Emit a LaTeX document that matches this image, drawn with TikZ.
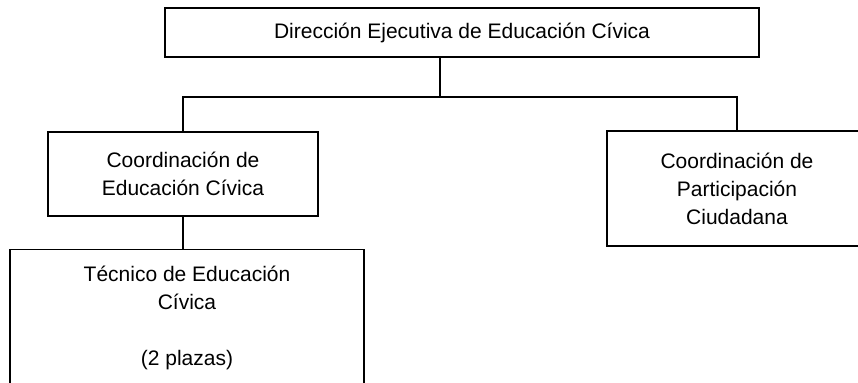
\documentclass[tikz,border=0pt]{standalone}
\usepackage{fontspec}
\setmainfont{Liberation Sans}
\tikzset{
  box/.style={draw, line width=0.75bp, inner sep=0pt},
  conn/.style={draw, line width=0.75bp},
  txt/.style={align=center, font=\fontsize{10.5bp}{14bp}\selectfont}
}
\begin{document}
\begin{tikzpicture}[x=0.5bp,y=-0.5bp]
\useasboundingbox (0,0) rectangle (858,383);
\node[box, txt, minimum width=297bp, minimum height=24.5bp] (dir) at (462,32.5) {Dirección Ejecutiva de Educación Cívica};
\node[box, txt, minimum width=135bp, minimum height=42bp] (coord) at (183,174) {Coordinación de\\Educación Cívica};
\node[box, txt, minimum width=130bp, minimum height=57.5bp] (part) at (737,188.5) {Coordinación de\\Participación\\Ciudadana};
\node[box, minimum width=177bp, minimum height=80bp, anchor=north] (tec) at (187,249) {};
\node[txt] (tect) at (187,318) {Técnico de Educación\\Cívica\\[14bp](2 plazas)};
\coordinate (bus) at (440,97);
\draw[conn] (dir.south -| bus) -- (bus);
\draw[conn] (coord.north) -- (coord.north |- bus) -- (part.north |- bus) -- (part.north);
\draw[conn] (coord.south) -- (tec.north -| coord.south);
\end{tikzpicture}
\end{document}
